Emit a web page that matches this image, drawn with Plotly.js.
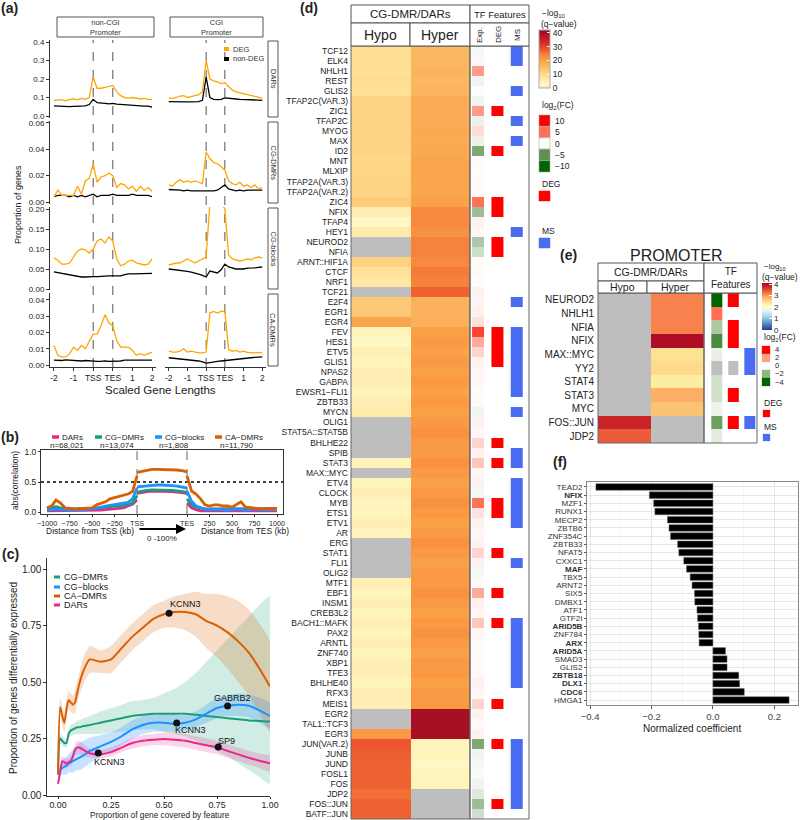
<!DOCTYPE html>
<html><head><meta charset="utf-8">
<script src="https://cdn.plot.ly/plotly-3.0.1.min.js"></script>
<style>html,body{margin:0;padding:0;background:#fff}#chart{width:800px;height:820px}</style>
</head><body><div id="chart"></div>
<script>
// ---------------- DATA ----------------
// (a) scaled gene positions (-2 .. TSS .. TES .. 2 mapped to 0..5)
const aPos = [0,0.2,0.4,0.6,0.8,1,1.2,1.4,1.6,1.8,2,2.2,2.4,2.6,2.8,3,3.2,3.4,3.6,3.8,4,4.2,4.4,4.6,4.8,5];
const aTickVals = [0,1,2,3,4,5];
const aTickText = ['-2','-1','TSS','TES','1','2'];
const aFeatures = ['DARs','CG-DMRs','CG-blocks','CA-DMRs'];
const aPromoters = ['non-CGI<br>Promoter','CGI<br>Promoter'];
const aDARs_ncgi_deg = [0.085,0.086,0.088,0.082,0.090,0.092,0.088,0.095,0.090,0.100,0.210,0.150,0.150,0.155,0.158,0.165,0.130,0.110,0.100,0.097,0.100,0.098,0.092,0.095,0.090,0.090];
const aDARs_ncgi_non = [0.055,0.053,0.052,0.052,0.051,0.052,0.052,0.053,0.055,0.062,0.090,0.072,0.068,0.068,0.066,0.068,0.064,0.062,0.060,0.058,0.056,0.055,0.054,0.053,0.053,0.048];
const aDARs_cgi_deg = [0.097,0.095,0.100,0.108,0.110,0.100,0.105,0.110,0.115,0.130,0.300,0.200,0.190,0.185,0.175,0.180,0.160,0.140,0.130,0.125,0.120,0.115,0.110,0.105,0.100,0.097];
const aDARs_cgi_non = [0.078,0.077,0.076,0.076,0.075,0.076,0.076,0.077,0.078,0.085,0.210,0.100,0.090,0.088,0.090,0.098,0.095,0.094,0.092,0.090,0.090,0.088,0.087,0.086,0.086,0.085];
const aCGDMRs_ncgi_deg = [0.004,0.009,0.005,0.005,0.005,0.005,0.012,0.006,0.016,0.018,0.029,0.015,0.019,0.020,0.022,0.020,0.011,0.014,0.013,0.010,0.012,0.008,0.012,0.009,0.011,0.008];
const aCGDMRs_ncgi_non = [0.004,0.005,0.005,0.005,0.004,0.005,0.004,0.005,0.004,0.005,0.006,0.004,0.005,0.005,0.005,0.006,0.005,0.005,0.005,0.005,0.006,0.005,0.005,0.005,0.005,0.004];
const aCGDMRs_cgi_deg = [0.013,0.012,0.015,0.017,0.015,0.016,0.015,0.016,0.015,0.014,0.038,0.033,0.030,0.029,0.027,0.024,0.016,0.014,0.013,0.015,0.012,0.013,0.011,0.013,0.010,0.011];
const aCGDMRs_cgi_non = [0.0095,0.0095,0.009,0.009,0.0085,0.009,0.0085,0.0085,0.008,0.008,0.0085,0.008,0.0085,0.009,0.011,0.013,0.010,0.009,0.0085,0.009,0.0085,0.009,0.009,0.0085,0.009,0.009];
const aCGblocks_ncgi_deg = [0.077,0.072,0.062,0.062,0.065,0.080,0.095,0.100,0.098,0.090,0.100,0.120,0.125,0.115,0.130,0.120,0.075,0.058,0.062,0.070,0.072,0.065,0.062,0.060,0.062,0.075];
const aCGblocks_ncgi_non = [0.043,0.041,0.039,0.037,0.035,0.033,0.031,0.030,0.030,0.031,0.031,0.031,0.032,0.032,0.033,0.033,0.033,0.033,0.036,0.038,0.038,0.038,0.038,0.039,0.039,0.039];
const aCGblocks_cgi_deg = [0.060,0.062,0.065,0.065,0.070,0.075,0.070,0.065,0.070,0.075,0.080,0.215,0.215,0.215,0.215,0.200,0.085,0.075,0.072,0.070,0.072,0.075,0.073,0.078,0.080,0.078];
const aCGblocks_cgi_non = [0.050,0.049,0.048,0.046,0.045,0.044,0.042,0.040,0.037,0.034,0.030,0.045,0.042,0.040,0.048,0.062,0.055,0.052,0.050,0.050,0.050,0.052,0.052,0.053,0.054,0.055];
const aCADMRs_ncgi_deg = [0.012,0.006,0.005,0.005,0.007,0.011,0.009,0.012,0.010,0.015,0.019,0.019,0.024,0.031,0.026,0.024,0.015,0.011,0.011,0.011,0.009,0.006,0.007,0.006,0.007,0.008];
const aCADMRs_ncgi_non = [0.0030,0.0028,0.0028,0.0032,0.0030,0.0030,0.0028,0.0025,0.0028,0.0025,0.0025,0.0022,0.0022,0.0025,0.0022,0.0022,0.0025,0.0025,0.0030,0.0030,0.0028,0.0030,0.0032,0.0030,0.0030,0.0030];
const aCADMRs_cgi_deg = [0.0085,0.008,0.008,0.0085,0.010,0.008,0.0085,0.008,0.0075,0.0075,0.008,0.032,0.033,0.032,0.033,0.033,0.0095,0.0085,0.009,0.008,0.0085,0.0078,0.0075,0.0075,0.0078,0.0075];
const aCADMRs_cgi_non = [0.0045,0.0043,0.0040,0.0038,0.0035,0.0033,0.0030,0.0028,0.0025,0.0020,0.0012,0.0015,0.0020,0.0022,0.0025,0.0028,0.0030,0.0032,0.0035,0.0038,0.0040,0.0042,0.0045,0.0047,0.0050,0.0050];

// (b)
const bUpKb = [-1000,-950,-900,-850,-800,-750,-700,-650,-600,-550,-500,-450,-400,-350,-300,-250,-200,-150,-100,-50,0];
const bBodyPct = [0,10,20,30,40,50,60,70,80,90,100];
const bDownKb = [0,50,100,150,200,250,300,350,400,450,500,550,600,650,700,750,800,850,900,950,1000];
const bSeries = ['DARs','CG−DMRs','CG−blocks','CA−DMRs'];
const bCounts = ['n=68,021','n=13,074','n=1,808','n=11,790'];
const bDARs_up = [0.02,0.02,0.03,0.02,0.02,0.02,0.02,0.02,0.02,0.02,0.02,0.03,0.03,0.04,0.05,0.05,0.06,0.07,0.10,0.13,0.20];
const bDARs_body = [0.31,0.33,0.34,0.35,0.35,0.35,0.35,0.34,0.33,0.32,0.31];
const bDARs_down = [0.15,0.07,0.04,0.02,0.02,0.02,0.02,0.02,0.02,0.02,0.02,0.02,0.02,0.02,0.02,0.02,0.02,0.02,0.02,0.02,0.02];
const bCGDMRs_up = [0.06,0.07,0.09,0.07,0.06,0.05,0.05,0.06,0.05,0.05,0.06,0.06,0.07,0.08,0.09,0.10,0.10,0.11,0.12,0.15,0.27];
const bCGDMRs_body = [0.33,0.35,0.36,0.37,0.37,0.37,0.37,0.36,0.35,0.34,0.33];
const bCGDMRs_down = [0.22,0.12,0.08,0.06,0.05,0.05,0.05,0.05,0.06,0.05,0.05,0.05,0.06,0.05,0.05,0.05,0.06,0.05,0.05,0.06,0.06];
const bCGblocks_up = [0.03,0.04,0.05,0.04,0.03,0.03,0.03,0.04,0.04,0.04,0.05,0.07,0.08,0.10,0.11,0.12,0.13,0.15,0.16,0.22,0.40];
const bCGblocks_body = [0.42,0.43,0.44,0.45,0.45,0.45,0.45,0.44,0.43,0.42,0.40];
const bCGblocks_down = [0.35,0.18,0.10,0.07,0.05,0.04,0.04,0.05,0.04,0.03,0.04,0.05,0.04,0.03,0.04,0.05,0.04,0.03,0.04,0.03,0.03];
const bCADMRs_up = [0.07,0.10,0.20,0.15,0.07,0.06,0.06,0.05,0.06,0.06,0.07,0.12,0.15,0.17,0.22,0.24,0.26,0.28,0.30,0.34,0.60];
const bCADMRs_body = [0.66,0.68,0.70,0.71,0.71,0.71,0.71,0.70,0.70,0.69,0.67];
const bCADMRs_down = [0.60,0.35,0.30,0.22,0.12,0.10,0.12,0.12,0.10,0.10,0.08,0.12,0.17,0.08,0.07,0.06,0.06,0.05,0.06,0.05,0.05];

// (c)
const cX = [0,0.01,0.02,0.03,0.04,0.05,0.06,0.07,0.08,0.09,0.10,0.12,0.15,0.20,0.25,0.30,0.35,0.40,0.45,0.50,0.55,0.60,0.65,0.70,0.75,0.80,0.85,0.90,0.95,1.00];
const cSeries = ['CG−DMRs','CG−blocks','CA−DMRs','DARs'];
const cCGDMRs = [0.09,0.25,0.24,0.23,0.23,0.27,0.285,0.29,0.295,0.30,0.30,0.305,0.31,0.32,0.33,0.34,0.35,0.355,0.36,0.36,0.36,0.36,0.355,0.35,0.345,0.34,0.335,0.33,0.328,0.325];
const cCGDMRs_lo = [0.08,0.23,0.22,0.21,0.21,0.25,0.26,0.265,0.27,0.27,0.27,0.27,0.27,0.27,0.275,0.28,0.285,0.29,0.29,0.28,0.27,0.26,0.24,0.22,0.195,0.17,0.14,0.11,0.08,0.05];
const cCGDMRs_hi = [0.10,0.27,0.26,0.25,0.25,0.29,0.31,0.315,0.32,0.33,0.33,0.34,0.35,0.37,0.385,0.40,0.415,0.42,0.43,0.45,0.47,0.50,0.54,0.59,0.64,0.69,0.74,0.79,0.84,0.88];
const cCGblocks = [0.10,0.11,0.12,0.125,0.13,0.14,0.145,0.15,0.155,0.16,0.165,0.175,0.195,0.215,0.235,0.26,0.29,0.31,0.32,0.32,0.315,0.32,0.335,0.36,0.385,0.395,0.40,0.395,0.375,0.35];
const cCGblocks_lo = [0.08,0.09,0.09,0.09,0.09,0.10,0.10,0.10,0.105,0.11,0.11,0.12,0.14,0.17,0.195,0.22,0.25,0.27,0.28,0.28,0.28,0.285,0.30,0.32,0.34,0.35,0.35,0.345,0.32,0.295];
const cCGblocks_hi = [0.12,0.13,0.15,0.16,0.17,0.18,0.19,0.20,0.21,0.22,0.23,0.24,0.255,0.265,0.275,0.30,0.33,0.35,0.36,0.36,0.355,0.355,0.37,0.40,0.43,0.44,0.45,0.445,0.43,0.405];
const cCADMRs = [0.10,0.39,0.35,0.32,0.38,0.42,0.41,0.40,0.41,0.45,0.49,0.55,0.60,0.59,0.60,0.65,0.70,0.74,0.78,0.80,0.81,0.81,0.80,0.77,0.75,0.72,0.68,0.63,0.56,0.48];
const cCADMRs_lo = [0.08,0.35,0.31,0.28,0.34,0.38,0.37,0.36,0.36,0.40,0.44,0.49,0.54,0.54,0.54,0.59,0.64,0.68,0.72,0.74,0.74,0.73,0.70,0.65,0.61,0.56,0.50,0.44,0.36,0.28];
const cCADMRs_hi = [0.12,0.43,0.39,0.36,0.42,0.46,0.45,0.44,0.46,0.50,0.54,0.61,0.66,0.64,0.66,0.71,0.76,0.80,0.84,0.86,0.88,0.89,0.90,0.89,0.89,0.88,0.86,0.82,0.76,0.68];
const cDARs = [0.05,0.10,0.15,0.145,0.14,0.145,0.15,0.17,0.20,0.21,0.21,0.20,0.185,0.18,0.19,0.21,0.23,0.24,0.245,0.248,0.245,0.24,0.23,0.22,0.21,0.195,0.18,0.165,0.152,0.14];
const cDARs_lo = [0.04,0.08,0.13,0.125,0.12,0.125,0.13,0.15,0.175,0.18,0.18,0.175,0.165,0.16,0.17,0.19,0.205,0.215,0.22,0.22,0.215,0.21,0.20,0.19,0.18,0.165,0.15,0.135,0.12,0.105];
const cDARs_hi = [0.06,0.12,0.17,0.165,0.16,0.165,0.17,0.19,0.225,0.24,0.24,0.225,0.205,0.20,0.21,0.23,0.255,0.265,0.27,0.276,0.275,0.27,0.26,0.25,0.24,0.225,0.21,0.195,0.184,0.175];
const cPtX = [0.524,0.80,0.56,0.756,0.19];
const cPtY = [0.805,0.394,0.319,0.212,0.186];
const cPtLabel = ['KCNN3','GABRB2','KCNN3','SP9','KCNN3'];

// (d)
const dTFs = ['TCF12','ELK4','NHLH1','REST','GLIS2','TFAP2C(VAR.3)','ZIC1','TFAP2C','MYOG','MAX','ID2','MNT','MLXIP','TFAP2A(VAR.3)','TFAP2A(VAR.2)','ZIC4','NFIX','TFAP4','HEY1','NEUROD2','NFIA','ARNT::HIF1A','CTCF','NRF1','TCF21','E2F4','EGR1','EGR4','FEV','HES1','ETV5','GLIS1','NPAS2','GABPA','EWSR1−FLI1','ZBTB33','MYCN','OLIG1','STAT5A::STAT5B','BHLHE22','SPIB','STAT3','MAX::MYC','ETV4','CLOCK','MYB','ETS1','ETV1','AR','ERG','STAT1','FLI1','OLIG2','MTF1','EBF1','INSM1','CREB3L2','BACH1::MAFK','PAX2','ARNTL','ZNF740','XBP1','TFE3','BHLHE40','RFX3','MEIS1','EGR2','TAL1::TCF3','EGR3','JUN(VAR.2)','JUNB','JUND','FOSL1','FOS','JDP2','FOS::JUN','BATF::JUN'];
const dHypo = [9,9,8.5,9,8.5, 11,11,11,11,11, 11,10.5,10.5,11,11, 12.5,5,3,6,null, null,11.5,8.5,7,null, 13,13,19,4,3, 5,4,5,5,4, 5,6,null,null,null, null,4,null,4,5, 4,4,5,4,null, null,null,null,5,4, 5,4,5,4,5, 4,5,5,4,5, 5,null,null,21,28, 27.5,27,27,27,26, 27,27];
const dHyper = [16,16,16.5,16,16.5, 18,18,18,18.5,18, 18.5,19,19,19,19, 20,23,23,22,24, 24,23,25,24,27, 17,17,17,20,21, 20,21,20,21,20, 21,20,21,22,21, 21,22,21,20,21, 22,21,20,21,22, 21,20,21,21,22, 21,20,21,22,21, 20,21,21,20,21, 21,40,40,40,4, 4,3,4,4,null, null,null];
const dExp = [-0.3,0.3,3.5,-0.5,0.1, -0.5,3.5,-0.6,1.2,-0.6, -4,0.2,0.1,0.2,0.2, 5,-3,0.5,0.3,-2.5, -1.5,0.2,0.2,0.1,0.5, 0.4,0.5,1,7,3, 1.5,0.5,0.3,0.3,0.2, 0.2,-0.5,0.5,0.3,1.5, 0.5,2,0.3,0.5,-0.3, 5,1,0.5,0.3,0.5, 1.5,0.5,-0.3,0.2,3, 0.5,0.3,2,0.3,0.2, 0.2,0.2,0.2,0.5,0.3, 1.5,0.5,0.2,0.5,-4, -0.5,-0.3,-0.2,-0.5,-1, -3,-1.5];
const dDEGtfs = ['ZIC1','ID2','ZIC4','NFIX','NEUROD2','NFIA','FEV','HES1','ETV5','GLIS1','BHLHE22','STAT3','MYB','ETS1','STAT1','EBF1','BACH1::MAFK','MEIS1','JUN(VAR.2)','FOS::JUN'];
const dMStfs = ['TCF12','ELK4','GLIS2','TFAP2C','MAX','HEY1','E2F4','FEV','HES1','ETV5','GLIS1','NPAS2','GABPA','EWSR1−FLI1','MYCN','SPIB','STAT3','ETV4','CLOCK','MYB','ETS1','ETV1','FLI1','BACH1::MAFK','PAX2','ARNTL','ZNF740','XBP1','TFE3','BHLHE40','JUN(VAR.2)','JUNB','JUND','FOSL1','FOS','JDP2','FOS::JUN'];
const dFCLegend = [10,5,0,-5,-10];

// (e)
const eTFs = ['NEUROD2','NHLH1','NFIA','NFIX','MAX::MYC','YY2','STAT4','STAT3','MYC','FOS::JUN','JDP2'];
const eHypo = [null,null,null,null,null,null,null,null,null,3.8,3.4];
const eHyper = [3.15,3.15,3.15,4.0,2.45,2.5,2.3,2.85,2.7,null,null];
const eExp = [-4,2.6,-1.5,-3,-0.4,null,-0.8,-0.8,-0.3,-2.5,-0.5];
const eDEGtfs = ['NEUROD2','NFIA','NFIX','STAT3','FOS::JUN'];
const eMStfs = ['MAX::MYC','YY2','FOS::JUN'];
const eNAtfs = ['YY2'];
const eFCLegend = [4,2,0,-2,-4];

// (f)
const fTFs = ['TEAD2','NFIX','MZF1','RUNX1','MECP2','ZBTB6','ZNF354C','ZBTB33','NFAT5','CXXC1','MAF','TBX5','ARNT2','SIX5','DMBX1','ATF1','GTF2I','ARID5B','ZNF784','ARX','ARID5A','SMAD3','GLIS2','ZBTB18','DLX1','CDC6','HMGA1'];
const fCoef = [-0.381,-0.207,-0.193,-0.189,-0.148,-0.143,-0.138,-0.115,-0.111,-0.095,-0.086,-0.074,-0.068,-0.060,-0.059,-0.052,-0.050,-0.047,-0.046,-0.045,0.041,0.046,0.046,0.084,0.087,0.102,0.248];
const fBold = ['NFIX','MAF','ARID5B','ARX','ARID5A','ZBTB18','DLX1','CDC6'];

// ---------------- HELPERS ----------------
const W=800,H=820;
const X=p=>p/W, Y=p=>1-p/H;
const FONT='Liberation Sans, Arial, Helvetica, sans-serif';
const traces=[], shapes=[], anns=[];
const layout={width:W,height:H,margin:{l:0,r:0,t:0,b:0},paper_bgcolor:'#fff',plot_bgcolor:'rgba(0,0,0,0)',
  showlegend:false,font:{family:FONT,size:9,color:'#222'},hovermode:false};
function txt(x,y,text,size,o={}){
  anns.push({xref:'paper',yref:'paper',x:X(x),y:Y(y),text:text,showarrow:false,
    font:{family:FONT,size:size,color:o.color||'#222'},xanchor:o.xanchor||'center',yanchor:'middle',
    textangle:o.angle||0,align:o.align||'center'});
}
function rect(x0,y0,x1,y1,fill,line,lw){
  shapes.push({type:'rect',xref:'paper',yref:'paper',x0:X(x0),x1:X(x1),y0:Y(y1),y1:Y(y0),
    fillcolor:fill||'rgba(0,0,0,0)',line:{color:line||'#555',width:lw==null?1:lw},layer:'above'});
}
function pline(x0,y0,x1,y1,color,w,dash){
  shapes.push({type:'line',xref:'paper',yref:'paper',x0:X(x0),x1:X(x1),y0:Y(y0),y1:Y(y1),line:{color:color,width:w,dash:dash||'solid'}});
}
function axis(n,xd,yd,xo,yo){
  const base={showgrid:false,zeroline:false,fixedrange:true,showline:false,ticks:'',showticklabels:false,tickangle:0,automargin:false};
  layout['xaxis'+n]=Object.assign({},base,{anchor:'y'+n,domain:[X(xd[0]),X(xd[1])]},xo);
  layout['yaxis'+n]=Object.assign({},base,{anchor:'x'+n,domain:[Y(yd[1]),Y(yd[0])]},yo);
}

// ---------------- PANEL (a) ----------------
const aData=[[aDARs_ncgi_deg,aDARs_ncgi_non,aDARs_cgi_deg,aDARs_cgi_non],
  [aCGDMRs_ncgi_deg,aCGDMRs_ncgi_non,aCGDMRs_cgi_deg,aCGDMRs_cgi_non],
  [aCGblocks_ncgi_deg,aCGblocks_ncgi_non,aCGblocks_cgi_deg,aCGblocks_cgi_non],
  [aCADMRs_ncgi_deg,aCADMRs_ncgi_non,aCADMRs_cgi_deg,aCADMRs_cgi_non]];
const aRowPx=[[40,118],[121,204],[207,290],[293,367]];
const aColPx=[[50,156],[165,266]];
const aYr=[[-0.0108,0.4108],[-0.0015,0.0615],[-0.0025,0.205],[-0.0012,0.0443]];
const aDt=[0.1,0.02,0.05,0.01], aFmt=['.1f','.2f','.2f','.2f'];
for(let r=0;r<4;r++){for(let c=0;c<2;c++){
  const n=r*2+c+1;
  const xo={range:[-0.2,5.2]};
  if(r===3) Object.assign(xo,{showline:true,linecolor:'#333',linewidth:1,ticks:'outside',ticklen:3,tickcolor:'#333',
    showticklabels:true,tickvals:aTickVals,ticktext:aTickText,tickfont:{size:8.5,color:'#222'}});
  const yo={range:aYr[r]};
  if(c===0) Object.assign(yo,{showline:true,linecolor:'#333',linewidth:1,ticks:'outside',ticklen:3,tickcolor:'#333',
    showticklabels:true,tick0:0,dtick:aDt[r],tickformat:aFmt[r],tickfont:{size:8,color:'#222'}});
  axis(n,aColPx[c],aRowPx[r],xo,yo);
  traces.push({type:'scatter',mode:'lines',x:aPos,y:aData[r][c*2+1],xaxis:'x'+n,yaxis:'y'+n,line:{color:'#000',width:1.3}});
  traces.push({type:'scatter',mode:'lines',x:aPos,y:aData[r][c*2],xaxis:'x'+n,yaxis:'y'+n,line:{color:'#FFA500',width:1.3}});
}}
for(let c=0;c<2;c++){
  [2,3].forEach(v=>shapes.push({type:'line',xref:'x'+(7+c),yref:'paper',x0:v,x1:v,y0:Y(367),y1:Y(40),
    line:{color:'#555',width:1,dash:'dash'},layer:'below'}));
}
const aTopStrip=[[57,154],[170,263]];
aTopStrip.forEach((s,i)=>{rect(s[0],17,s[1],37,'#fff','#555',1);txt((s[0]+s[1])/2,27,aPromoters[i],7.5,{color:'#333'});});
aRowPx.forEach((rp,i)=>{rect(268,rp[0]+1,278,rp[1]-1,'#fff','#555',1);txt(273,(rp[0]+rp[1])/2,aFeatures[i],7.5,{angle:90,color:'#333'});});
pline(224,49,229,49,'#FFA500',4); txt(231,49,'DEG',7.5,{xanchor:'left',color:'#333'});
pline(224,59,229,59,'#000',4); txt(231,59,'non-DEG',7.5,{xanchor:'left',color:'#333'});
txt(18,205,'Proportion of genes',9,{angle:-90});
txt(160,390,'Scaled Gene Lengths',11.5);
txt(9,8,'<b>(a)</b>',14);

// ---------------- PANEL (b) ----------------
const BODY=555.6;
axis(9,[41,283],[450,514],
  {range:[-1067,1622],showline:true,mirror:true,linecolor:'#333',ticks:'outside',ticklen:2,tickcolor:'#333',showticklabels:true,
   tickvals:[-1000,-750,-500,-250,0,BODY,BODY+250,BODY+500,BODY+750,BODY+1000],
   ticktext:['−1000','−750','−500','−250','TSS','TES','250','500','750','1000'],tickfont:{size:7.2,color:'#222'}},
  {range:[-0.033,1.033],showline:true,mirror:true,linecolor:'#333',ticks:'outside',ticklen:2,tickcolor:'#333',showticklabels:true,
   tickvals:[0,0.5,1],ticktext:['0.0','0.5','1.0'],tickfont:{size:8.5,color:'#222'}});
const bColors=['#E7298A','#1B9E77','#1E90FF','#D95F02'];
const bData=[[bDARs_up,bDARs_body,bDARs_down],[bCGDMRs_up,bCGDMRs_body,bCGDMRs_down],[bCGblocks_up,bCGblocks_body,bCGblocks_down],[bCADMRs_up,bCADMRs_body,bCADMRs_down]];
const bXs=bUpKb.concat([null],bBodyPct.map(p=>p/100*BODY),[null],bDownKb.map(k=>BODY+k));
shapes.push({type:'line',xref:'x9 domain',yref:'y9',x0:0,x1:1,y0:0.5,y1:0.5,line:{color:'#000',width:1.3,dash:'dot'},layer:'below'});
[0,BODY].forEach(v=>shapes.push({type:'line',xref:'x9',yref:'y9 domain',x0:v,x1:v,y0:0,y1:1,line:{color:'#888',width:1.3,dash:'dash'},layer:'below'}));
bData.forEach((d,i)=>{
  traces.push({type:'scatter',mode:'lines',x:bXs,y:d[0].concat([null],d[1],[null],d[2]),xaxis:'x9',yaxis:'y9',
    line:{color:bColors[i],width:2.8},connectgaps:false});
});
const bLeg=[[52,67],[95,117],[155,174],[215,237]];
bSeries.forEach((s,i)=>{pline(bLeg[i][0],437,bLeg[i][0]+7,437,bColors[i],3.5);
  txt(bLeg[i][0]+8,437,s,8,{xanchor:'left'});txt(bLeg[i][1],445,bCounts[i],8);});
txt(15,481,'abs(correlation)',8.5,{angle:-90});
txt(90,531,'Distance from TSS (kb)',8.5);
txt(245,531,'Distance from TES (kb)',8.5);
txt(162,538,'0 -100%',8);
anns.push({xref:'paper',yref:'paper',x:X(186),y:Y(529),ax:-48,ay:0,text:'',showarrow:true,arrowhead:2,arrowsize:1,arrowwidth:2,arrowcolor:'#000'});
txt(10,437,'<b>(b)</b>',14);

// ---------------- PANEL (c) ----------------
axis(10,[47.4,270],[558,796],
  {range:[-0.05,1.0],showline:true,linecolor:'#333',ticks:'outside',ticklen:2,tickcolor:'#333',showticklabels:true,ticklabelstandoff:-2,
   tickvals:[0,0.25,0.5,0.75,1],ticktext:['0.00','0.25','0.50','0.75','1.00'],tickfont:{size:8.8,color:'#222'}},
  {range:[-0.0044,1.049],showline:true,linecolor:'#333',ticks:'outside',ticklen:3,tickcolor:'#333',showticklabels:true,
   tickvals:[0,0.25,0.5,0.75,1],ticktext:['0.00','0.25','0.50','0.75','1.00'],tickfont:{size:10,color:'#222'}});
const cColors=['#1B9E77','#1E90FF','#D95F02','#E7298A'];
const cFill=['rgba(27,158,119,0.2)','rgba(30,144,255,0.25)','rgba(217,95,2,0.22)','rgba(231,41,138,0.2)'];
const cData=[[cCGDMRs,cCGDMRs_lo,cCGDMRs_hi],[cCGblocks,cCGblocks_lo,cCGblocks_hi],[cCADMRs,cCADMRs_lo,cCADMRs_hi],[cDARs,cDARs_lo,cDARs_hi]];
const cXrev=cX.slice().reverse();
cData.forEach((d,i)=>{
  traces.push({type:'scatter',mode:'lines',x:cX.concat(cXrev),y:d[2].concat(d[1].slice().reverse()),xaxis:'x10',yaxis:'y10',
    fill:'toself',fillcolor:cFill[i],line:{width:0,shape:'spline',smoothing:0.6}});
});
cData.forEach((d,i)=>{
  traces.push({type:'scatter',mode:'lines',x:cX,y:d[0],xaxis:'x10',yaxis:'y10',line:{color:cColors[i],width:2,shape:'spline',smoothing:0.6}});
});
traces.push({type:'scatter',mode:'markers',x:cPtX,y:cPtY,xaxis:'x10',yaxis:'y10',marker:{color:'#111',size:7}});
const cLabShift=[[16,9],[5,8],[14,-7],[8,6],[11,-9]];
cPtLabel.forEach((l,i)=>anns.push({xref:'x10',yref:'y10',x:cPtX[i],y:cPtY[i],xshift:cLabShift[i][0],yshift:cLabShift[i][1],
  text:l,showarrow:false,font:{family:FONT,size:9,color:'#111'}}));
const cLegY=[577,587,596,605];
cSeries.forEach((s,i)=>{pline(54,cLegY[i],60,cLegY[i],cColors[i],3);txt(62,cLegY[i],s,9,{xanchor:'left'});});
txt(13,678,'Proportion of genes differentially expressed',10,{angle:-90});
txt(160,815,'Proportion of gene covered by feature',8.3);
txt(10,554,'<b>(c)</b>',14);

// ---------------- PANEL (d) ----------------
const nD=dTFs.length, dIdx=dTFs.map((_,i)=>i);
axis(11,[351,470],[46,819],{range:[-0.5,1.5]},
  {range:[nD-0.5,-0.5],showticklabels:true,tickvals:dIdx,ticktext:dTFs,tickfont:{size:8.5,color:'#222'},ticklen:0,ticklabelstandoff:2});
axis(12,[470,529],[46,819],{range:[-0.45,2.6]},{range:[nD-0.5,-0.5]});
const qScale=[[0,'#E8E8DC'],[0.06,'#FFFAC8'],[0.24,'#FED98A'],[0.48,'#FA9F45'],[0.6,'#F47A38'],[0.71,'#E8402A'],[0.83,'#CC1F2A'],[0.95,'#A80F22'],[1,'#950C1E']];
const fcScaleD=[[0,'#006400'],[0.25,'#5E9150'],[0.5,'#FFFFFF'],[0.75,'#FF7055'],[1,'#FF0000']];
traces.push({type:'heatmap',x:[0,1],y:dIdx,z:dIdx.map(i=>[dHypo[i]===null?1:null,dHyper[i]===null?1:null]),xaxis:'x11',yaxis:'y11',
  colorscale:[[0,'#BEBEBE'],[1,'#BEBEBE']],zmin:0,zmax:1,showscale:false});
traces.push({type:'heatmap',x:[0,1],y:dIdx,z:dIdx.map(i=>[dHypo[i],dHyper[i]]),xaxis:'x11',yaxis:'y11',
  colorscale:qScale,zmin:0,zmax:42,showscale:true,
  colorbar:{x:X(539),xanchor:'left',xref:'paper',y:Y(59),yanchor:'middle',len:58,lenmode:'pixels',thickness:11,thicknessmode:'pixels',
    tickvals:[0,10,20,30,40],tickfont:{size:8.5,color:'#222'},ticks:'inside',ticklen:3,tickcolor:'#fff',outlinewidth:1,outlinecolor:'#aaa',xpad:0,ypad:0}});
traces.push({type:'heatmap',x:[0],y:dIdx,z:dExp.map(v=>[v]),xaxis:'x12',yaxis:'y12',colorscale:fcScaleD,zmin:-10,zmax:10,showscale:false,xgap:7});
traces.push({type:'heatmap',x:[1],y:dIdx,z:dTFs.map(t=>[dDEGtfs.includes(t)?1:null]),xaxis:'x12',yaxis:'y12',colorscale:[[0,'#FF0000'],[1,'#FF0000']],zmin:0,zmax:1,showscale:false,xgap:7});
traces.push({type:'heatmap',x:[2],y:dIdx,z:dTFs.map(t=>[dMStfs.includes(t)?1:null]),xaxis:'x12',yaxis:'y12',colorscale:[[0,'#4A6CF0'],[1,'#4A6CF0']],zmin:0,zmax:1,showscale:false,xgap:7});
rect(351,46,470,819,null,'#666',1); rect(470,46,529,819,null,'#666',1);
rect(351,5,470,23,'#fff','#555',1); txt(410.5,14,'CG-DMR/DARs',11.5);
rect(351,23,410,46,'#fff','#555',1); txt(380.5,35,'Hypo',14);
rect(410,23,470,46,'#fff','#555',1); txt(440,35,'Hyper',14);
rect(470,5,529,23,'#fff','#555',1); txt(499.5,14,'TF Features',9.5);
rect(470,23,529,46,'#fff','#555',1);
txt(479,35,'Exp.',8,{angle:-90}); txt(498,35,'DEG',8,{angle:-90}); txt(517,35,'MS',8,{angle:-90});
txt(540,13,'−log<sub>10</sub>',8.5,{xanchor:'left'}); txt(539,24,'(q−value)',8.5,{xanchor:'left'});
txt(540,105,'log<sub>2</sub>(FC)',8.5,{xanchor:'left'});
const dFCcol=['#FF0000','#FF7055','#FFFFFF','#5E9150','#006400'];
dFCLegend.forEach((v,i)=>{const y0=115+i*11.4;rect(539,y0,550,y0+11.4,dFCcol[i],'#aaa',0.6);txt(553,y0+5.7,String(v).replace('-','−'),8.5,{xanchor:'left'});});
txt(540,184,'DEG',8.5,{xanchor:'left'}); rect(539,191,550,201,'#FF0000','#FF0000',0.5);
txt(540,231,'MS',8.5,{xanchor:'left'}); rect(539,238,550,248,'#4A6CF0','#4A6CF0',0.5);
txt(309,8,'<b>(d)</b>',14);

// ---------------- PANEL (e) ----------------
const nE=eTFs.length, eIdx=eTFs.map((_,i)=>i);
axis(13,[598,704],[293,443],{range:[-0.5,1.5]},
  {range:[nE-0.5,-0.5],showticklabels:true,tickvals:eIdx,ticktext:eTFs,tickfont:{size:10,color:'#222'},ticklen:0,ticklabelstandoff:3});
axis(14,[704,757],[293,443],{range:[-0.76,2.45]},{range:[nE-0.5,-0.5]});
const rdylbu=[[0,'#313695'],[0.1,'#4575B4'],[0.2,'#74ADD1'],[0.3,'#ABD9E9'],[0.4,'#E0F3F8'],[0.5,'#FFFFBF'],[0.6,'#FEE090'],[0.7,'#FDAE61'],[0.8,'#F46D43'],[0.9,'#D73027'],[1,'#A50026']];
const fcScaleE=[[0,'#006400'],[0.25,'#8FB580'],[0.5,'#FFFFFF'],[0.75,'#FFA07A'],[1,'#FF0000']];
traces.push({type:'heatmap',x:[0,1],y:eIdx,z:eIdx.map(i=>[eHypo[i]===null?1:null,eHyper[i]===null?1:null]),xaxis:'x13',yaxis:'y13',
  colorscale:[[0,'#BEBEBE'],[1,'#BEBEBE']],zmin:0,zmax:1,showscale:false});
traces.push({type:'heatmap',x:[0,1],y:eIdx,z:eIdx.map(i=>[eHypo[i],eHyper[i]]),xaxis:'x13',yaxis:'y13',
  colorscale:rdylbu,zmin:0,zmax:4.1,showscale:true,
  colorbar:{x:X(762),xanchor:'left',xref:'paper',y:Y(306.5),yanchor:'middle',len:47,lenmode:'pixels',thickness:10,thicknessmode:'pixels',
    tickvals:[0,1,2,3,4],tickfont:{size:8,color:'#222'},ticks:'inside',ticklen:3,tickcolor:'#fff',outlinewidth:0,xpad:0,ypad:0}});
traces.push({type:'heatmap',x:[0,1],y:eIdx,z:eTFs.map(t=>eNAtfs.includes(t)?[1,1]:[null,null]),xaxis:'x14',yaxis:'y14',
  colorscale:[[0,'#BEBEBE'],[1,'#BEBEBE']],zmin:0,zmax:1,showscale:false,xgap:6});
traces.push({type:'heatmap',x:[0],y:eIdx,z:eExp.map(v=>[v]),xaxis:'x14',yaxis:'y14',colorscale:fcScaleE,zmin:-4,zmax:4,showscale:false,xgap:6});
traces.push({type:'heatmap',x:[1],y:eIdx,z:eTFs.map(t=>[eDEGtfs.includes(t)?1:null]),xaxis:'x14',yaxis:'y14',colorscale:[[0,'#FF0000'],[1,'#FF0000']],zmin:0,zmax:1,showscale:false,xgap:6});
traces.push({type:'heatmap',x:[2],y:eIdx,z:eTFs.map(t=>[eMStfs.includes(t)?1:null]),xaxis:'x14',yaxis:'y14',colorscale:[[0,'#4A6CF0'],[1,'#4A6CF0']],zmin:0,zmax:1,showscale:false,xgap:6});
rect(598,293,704,443,null,'#666',1); rect(704,293,757,443,null,'#666',1);
txt(676,255,'PROMOTER',16);
rect(598,263,704,281,'#fff','#555',1); txt(651,272,'CG-DMR/DARs',10.5);
rect(598,281,647,293,'#fff','#555',1); txt(622.5,287,'Hypo',10.5);
rect(647,281,704,293,'#fff','#555',1); txt(675.5,287,'Hyper',10.5);
rect(704,263,757,293,'#fff','#555',1); txt(730.5,278,'TF<br>Features',10);
txt(762,267,'−log<sub>10</sub>',8,{xanchor:'left'}); txt(760,277,'(q−value)',8.5,{xanchor:'left'});
txt(762,338,'log<sub>2</sub>(FC)',8.5,{xanchor:'left'});
const eFCcol=['#FF0000','#FFA07A',null,'#8FB580','#006400'];
eFCLegend.forEach((v,i)=>{const y0=346+i*8;if(eFCcol[i])rect(762,y0,770,y0+8,eFCcol[i],eFCcol[i],0.3);txt(773,y0+4,String(v).replace('-','−'),7.5,{xanchor:'left'});});
txt(762,403,'DEG',8.5,{xanchor:'left'}); rect(763,410,770,417,'#FF0000','#FF0000',0.3);
txt(762,427,'MS',8.5,{xanchor:'left'}); rect(763,434,770,441,'#4A6CF0','#4A6CF0',0.3);
txt(568,255,'<b>(e)</b>',14);

// ---------------- PANEL (f) ----------------
const fIdx=fTFs.map((_,i)=>i);
axis(15,[587,798],[482,705],
  {range:[-0.41,0.277],showgrid:true,gridcolor:'#E6E6E6',gridwidth:1,showline:true,mirror:true,linecolor:'#888',
   ticks:'outside',ticklen:3,tickcolor:'#555',showticklabels:true,tickvals:[-0.4,-0.2,0,0.2],ticktext:['−0.4','−0.2','0.0','0.2'],
   tickfont:{size:9.5,color:'#444'},minor:{tick0:0,dtick:0.1,showgrid:true,gridcolor:'#F2F2F2',gridwidth:0.8,ticks:''}},
  {range:[fTFs.length-0.4,-0.6],showgrid:true,gridcolor:'#E6E6E6',showline:true,mirror:true,linecolor:'#888',
   ticks:'outside',ticklen:2,tickcolor:'#555',showticklabels:true,tickvals:fIdx,
   ticktext:fTFs.map(t=>fBold.includes(t)?'<b>'+t+'</b>':t),tickfont:{size:8,color:'#333'}});
traces.push({type:'bar',orientation:'h',x:fCoef,y:fIdx,xaxis:'x15',yaxis:'y15',width:0.8,marker:{color:'#000',line:{color:'#666',width:0.5}}});
txt(692,728,'Normalized coefficient',10,{color:'#222'});
txt(560,462,'<b>(f)</b>',14);

layout.shapes=shapes; layout.annotations=anns;
Plotly.newPlot('chart',traces,layout,{staticPlot:true,displayModeBar:false});
</script></body></html>
